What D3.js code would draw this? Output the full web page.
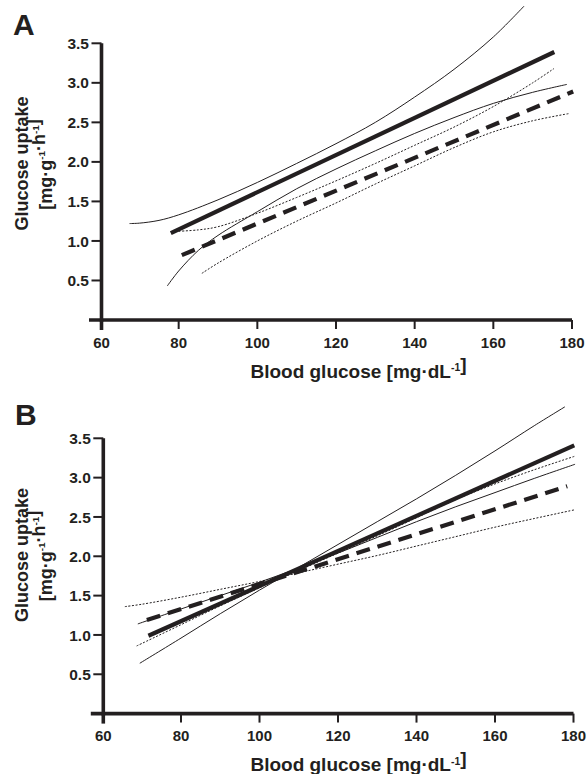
<!DOCTYPE html>
<html>
<head>
<meta charset="utf-8">
<script src="https://cdn.jsdelivr.net/npm/d3@7"></script>
<style>
	body { margin: 0; background: white; }
	svg { display: block; }
	text { font-family: "Liberation Sans", Arial, sans-serif; fill: #231f20; }
</style>
</head>
<body>
<svg id="fig" width="587" height="774"></svg>
<script>

// shared axis values
const xTicks = [60, 80, 100, 120, 140, 160, 180];
const yTicks = [0, 0.5, 1.0, 1.5, 2.0, 2.5, 3.0, 3.5];

// panel A: fitted lines and their bands [blood glucose, uptake]
const aFitSolid = [[78.0, 1.10], [175.5, 3.39]];
const aFitDashed = [[80.8, 0.82], [180.3, 2.89]];
const aBandSolidUpper = [[67.5, 1.22], [70, 1.225], [75, 1.26], [80, 1.33], [90, 1.52], [100, 1.74], [110, 1.98], [120, 2.23], [130, 2.50], [140, 2.82], [150, 3.17], [160, 3.58], [167.8, 3.97]];
const aBandSolidLower = [[77.1, 0.43], [80, 0.62], [85, 0.88], [90, 1.07], [100, 1.37], [110, 1.66], [120, 1.91], [130, 2.14], [140, 2.36], [150, 2.56], [160, 2.74], [170, 2.88], [178.7, 2.98]];
const aBandDashedUpper = [[79.1, 1.12], [85, 1.14], [90, 1.18], [100, 1.35], [110, 1.55], [120, 1.76], [130, 1.98], [140, 2.21], [150, 2.44], [160, 2.70], [170, 3.00], [175.4, 3.18]];
const aBandDashedLower = [[85.9, 0.59], [90, 0.72], [100, 1.00], [110, 1.25], [120, 1.48], [130, 1.72], [140, 1.95], [150, 2.18], [160, 2.38], [170, 2.52], [179.1, 2.61]];

// panel B
const bFitSolid = [[71.7, 0.99], [180.2, 3.41]];
const bFitDashed = [[71.3, 1.19], [178.4, 2.89]];
const bBandSolidSteep = [[69.5, 0.64], [80, 0.96], [90, 1.27], [100, 1.57], [110, 1.86], [120, 2.15], [130, 2.44], [140, 2.73], [150, 3.03], [160, 3.34], [170, 3.66], [177.8, 3.90]];
const bBandSolidFlat = [[69, 1.14], [80, 1.33], [90, 1.50], [100, 1.67], [110, 1.85], [120, 2.04], [130, 2.24], [140, 2.44], [150, 2.63], [160, 2.81], [170, 2.99], [180.4, 3.17]];
const bBandDashedFlat = [[65.7, 1.36], [70, 1.39], [80, 1.48], [90, 1.58], [100, 1.68], [110, 1.79], [120, 1.90], [130, 2.01], [140, 2.13], [150, 2.25], [160, 2.37], [170, 2.48], [180.2, 2.59]];
const bBandDashedSteep = [[68.7, 0.86], [80, 1.13], [90, 1.37], [100, 1.60], [110, 1.82], [120, 2.04], [130, 2.26], [140, 2.49], [150, 2.72], [160, 2.92], [170, 3.10], [180.2, 3.27]];

const ink = "#231f20";
const svg = d3.select("#fig");

function addUnit(textSel, parts) {
	// parts: [text, isSuperscript]
	parts.forEach(p => {
		if (p[1]) {
			textSel.append("tspan").attr("font-size", "0.55em").attr("dy", "-0.62em").text(p[0]);
			textSel.append("tspan").attr("dy", "0.34em").text("");
		} else {
			textSel.append("tspan").text(p[0]);
		}
	});
}

function drawPanel(opts) {
	const x = d3.scaleLinear().domain([60, 180]).range(opts.xRange);
	const y = d3.scaleLinear().domain([0, 3.5]).range(opts.yRange);
	const g = svg.append("g");

	const y0 = y(0);
	const xAxisX = opts.axisX;

	// axis lines
	g.append("line")
		.attr("x1", xAxisX - 12.5).attr("x2", x(180))
		.attr("y1", y0).attr("y2", y0)
		.attr("stroke", ink).attr("stroke-width", 3.6);
	g.append("line")
		.attr("x1", xAxisX).attr("x2", xAxisX)
		.attr("y1", y(3.5)).attr("y2", y0 + 1.8)
		.attr("stroke", ink).attr("stroke-width", 3.6);

	// x ticks
	const xt = g.selectAll(".xt").data(xTicks).enter().append("g")
		.attr("transform", d => "translate(" + (d === 60 ? xAxisX : x(d)) + "," + y0 + ")");
	xt.append("line").attr("y1", 0).attr("y2", d => d === 60 ? 10 : 9)
		.attr("stroke", ink).attr("stroke-width", d => d === 60 ? 3.6 : 2);
	xt.append("text")
		.attr("y", 27.5)
		.attr("text-anchor", "middle")
		.attr("font-size", 15).attr("font-weight", "bold")
		.text(d => d);

	// y ticks
	const yt = g.selectAll(".yt").data(yTicks.filter(d => d > 0)).enter().append("g")
		.attr("transform", d => "translate(" + xAxisX + "," + y(d) + ")");
	yt.append("line").attr("x1", 0).attr("x2", -10)
		.attr("stroke", ink).attr("stroke-width", 2);
	yt.append("text")
		.attr("x", -12.5).attr("dy", "0.36em")
		.attr("text-anchor", "end")
		.attr("font-size", 15.5).attr("font-weight", "bold")
		.text(d => d.toFixed(1));

	// panel letter
	g.append("text")
		.attr("x", opts.letterPos[0]).attr("y", opts.letterPos[1])
		.attr("font-size", 30).attr("font-weight", "bold")
		.text(opts.letter);

	// axis titles
	const yl = g.append("g").attr("transform", "translate(0," + opts.yLabelMid + ")");
	yl.append("text")
		.attr("transform", "translate(27.5,0) rotate(-90)")
		.attr("text-anchor", "middle")
		.attr("font-size", 18).attr("font-weight", "bold")
		.text("Glucose uptake");
	const yl2 = yl.append("text")
		.attr("transform", "translate(51.5,1) rotate(-90)")
		.attr("text-anchor", "middle")
		.attr("font-size", 18).attr("font-weight", "bold");
	addUnit(yl2, [["[mg·g", false], ["-1", true], ["·h", false], ["-1", true], ["]", false]]);

	const xl = g.append("text")
		.attr("x", 358.5).attr("y", y0 + 57.5)
		.attr("text-anchor", "middle")
		.attr("font-size", 19).attr("font-weight", "bold");
	addUnit(xl, [["Blood glucose [mg·dL", false], ["-1", true], ["]", false]]);

	// curves
	const line = d3.line().x(d => x(d[0])).y(d => y(d[1])).curve(d3.curveCatmullRom.alpha(0.5));
	const styles = {
		fit: {w: 4.2, dash: null},
		fitDashed: {w: 4.2, dash: "14,8"},
		band: {w: 1, dash: null},
		bandDotted: {w: 1, dash: "2,1.6"}
	};
	opts.series.forEach(s => {
		const st = styles[s.style];
		g.append("path")
			.attr("d", line(s.values))
			.attr("fill", "none")
			.attr("stroke", ink)
			.attr("stroke-width", st.w)
			.attr("stroke-dasharray", st.dash);
	});
}

drawPanel({
	letter: "A",
	letterPos: [13, 35],
	xRange: [100, 572],
	yRange: [320, 43.3],
	axisX: 101.5,
	yLabelMid: 163.5,
	series: [
		{values: aBandSolidUpper, style: "band"},
		{values: aBandSolidLower, style: "band"},
		{values: aBandDashedUpper, style: "bandDotted"},
		{values: aBandDashedLower, style: "bandDotted"},
		{values: aFitSolid, style: "fit"},
		{values: aFitDashed, style: "fitDashed"}
	]
});

drawPanel({
	letter: "B",
	letterPos: [15, 425],
	xRange: [102.5, 573.5],
	yRange: [713.6, 438.3],
	axisX: 103.3,
	yLabelMid: 555,
	series: [
		{values: bBandSolidSteep, style: "band"},
		{values: bBandSolidFlat, style: "band"},
		{values: bBandDashedFlat, style: "bandDotted"},
		{values: bBandDashedSteep, style: "bandDotted"},
		{values: bFitSolid, style: "fit"},
		{values: bFitDashed, style: "fitDashed"}
	]
});

</script>
</body>
</html>
